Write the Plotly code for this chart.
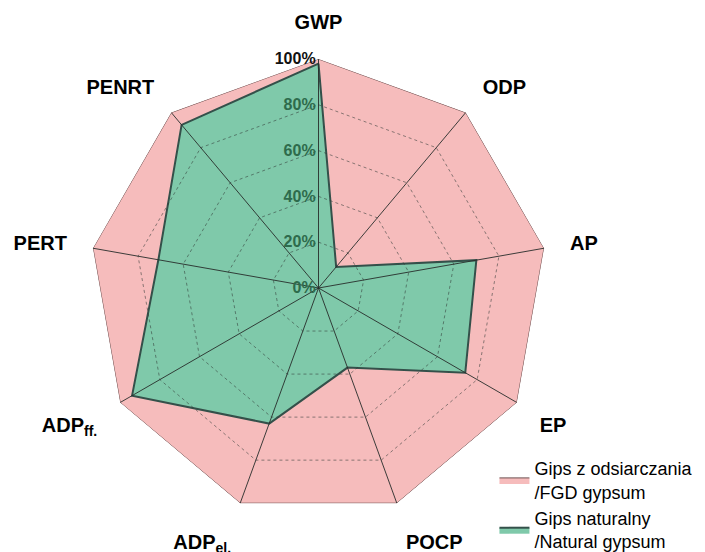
import plotly.graph_objects as go

categories = ["GWP", "ODP", "AP", "EP", "POCP", "ADP<sub>el.</sub>", "ADP<sub>ff.</sub>", "PERT", "PENRT"]
fgd_values = [100, 100, 100, 100, 100, 100, 100, 100, 100]
natural_values = [98, 12, 70, 74, 37, 63, 94, 71, 93]
tick_vals = [0, 20, 40, 60, 80, 100]
tick_text = ["0%", "20%", "40%", "60%", "80%", "<span style='color:#111111'>100%</span>"]
grid_levels = [20, 40, 60, 80]
series_names = ["Gips z odsiarczania<br>/FGD gypsum", "Gips naturalny<br>/Natural gypsum"]

fig = go.Figure()
fig.add_trace(go.Scatterpolar(
    r=fgd_values + fgd_values[:1], theta=categories + categories[:1],
    fill="toself", fillcolor="rgb(246,188,188)",
    line=dict(color="#6e5050", width=1), mode="lines",
    name=series_names[0]))
fig.add_trace(go.Scatterpolar(
    r=natural_values + natural_values[:1], theta=categories + categories[:1],
    fill="toself", fillcolor="rgb(127,201,170)",
    line=dict(color="#34504a", width=2), mode="lines",
    name=series_names[1]))

# grid polygons drawn above the fills
for lv in grid_levels:
    fig.add_trace(go.Scatterpolar(
        r=[lv] * (len(categories) + 1), theta=categories + categories[:1],
        mode="lines", line=dict(color="rgba(50,60,55,0.7)", width=0.8, dash="3px,3px"),
        showlegend=False, hoverinfo="skip"))
# spokes
spoke_r, spoke_t = [], []
for c in categories:
    spoke_r += [0, 100, None]
    spoke_t += [c, c, None]
fig.add_trace(go.Scatterpolar(
    r=spoke_r, theta=spoke_t, mode="lines", connectgaps=False,
    line=dict(color="rgba(40,45,43,0.9)", width=1),
    showlegend=False, hoverinfo="skip"))

fig.update_layout(
    width=705, height=552,
    margin=dict(l=0, r=0, t=0, b=0),
    paper_bgcolor="white",
    font=dict(family="Liberation Sans, Arial, sans-serif", color="black"),
    polar=dict(
        domain=dict(x=[81.5/705, 539.5/705], y=[43/552, 501/552]),
        bgcolor="rgba(0,0,0,0)",
        gridshape="linear",
        angularaxis=dict(
            rotation=90, direction="clockwise",
            tickfont=dict(size=20, color="black", family="Liberation Sans, Arial", weight="bold"),
            ticks="outside", ticklen=22, tickcolor="rgba(0,0,0,0)",
            showline=False, showgrid=False,
            layer="above traces",
        ),
        radialaxis=dict(
            range=[0, 100], angle=90, tickangle=90,
            tickvals=tick_vals, ticktext=tick_text,
            tickfont=dict(size=16, color="#2e6b4c", family="Liberation Sans, Arial", weight="bold"),
            showline=False, showgrid=False,
            side="counterclockwise",
            layer="above traces",
        ),
    ),
    legend=dict(
        x=0.69, y=0.0, xanchor="left", yanchor="bottom",
        font=dict(size=18, color="black", family="Liberation Sans, Arial"),
        bgcolor="rgba(0,0,0,0)", tracegroupgap=0,
    ),
)

fig.write_html("out.html")
